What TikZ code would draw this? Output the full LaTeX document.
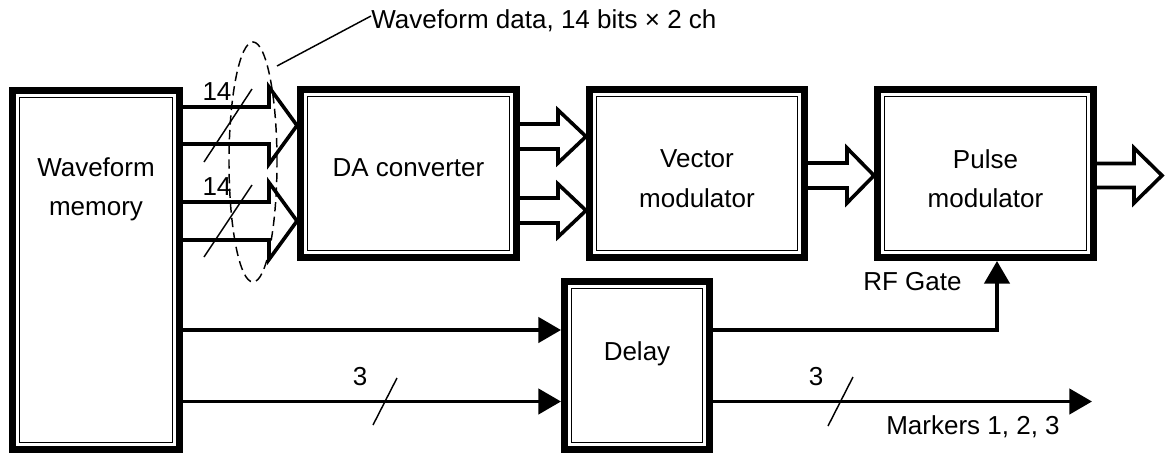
\documentclass[tikz,border=0pt]{standalone}
\usepackage{fontspec}
\setmainfont{Liberation Sans}
\usetikzlibrary{arrows.meta,calc,shapes.geometric}
\newcommand\hollowarr[5]{%
  \draw[fat] ($(#1)+(0,-#3)$) -- ($(#2)+(-#5,-#3)$) -- ($(#2)+(-#5,-#4)$) -- (#2)
     -- ($(#2)+(-#5,#4)$) -- ($(#2)+(-#5,#3)$) -- ($(#1)+(0,#3)$);}
\begin{document}
\begin{tikzpicture}[x=0.75pt,y=-0.75pt,
  blk/.style={draw, line width=5.25pt, inner sep=0pt},
  innerline/.style={draw, line width=0.8pt},
  fat/.style={draw, line width=2.7pt, line join=miter},
  conn/.style={draw, line width=2.6pt, -{Triangle[length=17pt,width=19pt]}},
  slash/.style={draw, line width=1.1pt},
  txt/.style={inner sep=0pt, align=center, font=\fontsize{19.5pt}{29.5pt}\selectfont}]
\useasboundingbox (0,0) rectangle (1165,454);

% blocks
\node[blk, minimum width={167*0.75pt}, minimum height={359*0.75pt}] (wm) at (96,270) {};
\node[blk, minimum width={216*0.75pt}, minimum height={168*0.75pt}] (da) at (408.5,173.5) {};
\node[blk, minimum width={215*0.75pt}, minimum height={168*0.75pt}] (vm) at (697,173.5) {};
\node[blk, minimum width={216*0.75pt}, minimum height={168*0.75pt}] (pm) at (985.5,173.5) {};
\node[blk, minimum width={145*0.75pt}, minimum height={168*0.75pt}] (dl) at (637,365.5) {};
\foreach \n in {wm,da,vm,pm,dl}
  \draw[innerline] ($(\n.north west)+(10.5,10.5)$) rectangle ($(\n.south east)+(-10.5,-10.5)$);

% block texts
\node[txt] (wmt) at (96,189) {Waveform\\memory};
\node[txt] (dat) at (408.5,167.7) {DA converter};
\node[txt] (vmt) at (697,178.7) {Vector\\modulator};
\node[txt] (pmt) at (985.5,178.7) {Pulse\\modulator};
\node[txt] (dlt) at (637,353.5) {Delay};

% helper coordinates
\coordinate (y1) at (0,125.5);
\coordinate (y2) at (0,221);
\coordinate (y3) at (0,136.5);
\coordinate (y4) at (0,210.5);
\coordinate (y5) at (0,175.5);
\coordinate (r1) at (0,330);
\coordinate (r2) at (0,401.5);
\coordinate (gx) at (997,0);
\coordinate (out) at (1162,175.5);
\coordinate (mk) at (1092,401.5);

\coordinate (s1) at (wm.east |- y1); \coordinate (t1) at (da.west |- y1);
\coordinate (s2) at (wm.east |- y2); \coordinate (t2) at (da.west |- y2);
\coordinate (s3) at (da.east |- y3); \coordinate (t3) at (vm.west |- y3);
\coordinate (s4) at (da.east |- y4); \coordinate (t4) at (vm.west |- y4);
\coordinate (s5) at (vm.east |- y5); \coordinate (t5) at (pm.west |- y5);
\coordinate (s6) at (pm.east |- y5);

% wide hollow arrows
\hollowarr{s1}{t1}{18.5}{38.5}{28}
\hollowarr{s2}{t2}{19}{38.5}{28}
\hollowarr{s3}{t3}{12.5}{26.5}{28}
\hollowarr{s4}{t4}{12.5}{26.5}{28}
\hollowarr{s5}{t5}{12.5}{27.5}{27}
\hollowarr{s6}{out}{12}{27.5}{28}

% thin connectors
\draw[conn] (wm.east |- r1) -- (dl.west |- r1);
\draw[conn] (wm.east |- r2) -- (dl.west |- r2);
\draw[conn] (dl.east |- r1) -| (pm.south -| gx);
\draw[conn] (dl.east |- r2) -- (mk);

% bus slashes and widths
\draw[slash] (204,162) -- (252,89);
\draw[slash] (204,257) -- (252,185);
\draw[slash] (373,425) -- (397,378);
\draw[slash] (828,426) -- (853,377);
\node[txt] (n14a) at (217,92) {14};
\node[txt] (n14b) at (217,186.5) {14};
\node[txt] (n3a) at (360,377) {3};
\node[txt] (n3b) at (816,377) {3};

% labels
\node[txt] (rfg) at (912.5,281.5) {RF Gate};
\node[txt] (mkt) at (973,427) {Markers 1, 2, 3};

% bundle ellipse and its caption
\node[ellipse, draw, dashed, dash pattern=on 7pt off 4pt, line width=1.1pt, inner sep=0pt,
      minimum width={48*0.75pt}, minimum height={240*0.75pt}] (ell) at (253,162) {};
\node[txt, anchor=west] (wd) at (371,21) {Waveform data, 14 bits × 2 ch};
\coordinate (ldr) at (277,66);
\draw[slash] (ldr) -- ([yshift=3.75pt]wd.west);
\end{tikzpicture}
\end{document}
